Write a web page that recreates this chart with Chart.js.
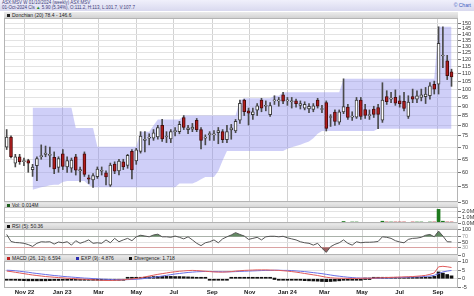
<!DOCTYPE html>
<html>
<head>
<meta charset="utf-8">
<script src="https://cdn.jsdelivr.net/npm/chart.js@4.4.1/dist/chart.umd.min.js"></script>
<style>
  html, body { margin: 0; padding: 0; background: #fff; }
  body { width: 474px; height: 296px; position: relative; overflow: hidden;
         font-family: "Liberation Sans", Arial, sans-serif; }
  .top { position: absolute; left: 0; top: 0; width: 474px; height: 11px;
         background: linear-gradient(#f0f0fb, #d9d9ef); }
  .top .l1, .top .l2 { position: absolute; left: 2px; font-size: 4.5px; white-space: nowrap; color: #3c3c78; }
  .top .l1 { top: 0px; }
  .top .l2 { top: 5px; }
  .top .up { color: #1d8a1d; }
  .top .logo { position: absolute; right: 3px; top: 2px; font-size: 5px; color: #3b5bbf; }
  .hdr { position: absolute; left: 4px; width: 454px; height: 6px;
         background: linear-gradient(#ececec, #d2d2d2); font-size: 5px; line-height: 6px;
         color: #222; white-space: nowrap; }
  .sq { display: inline-block; width: 3px; height: 3px; margin: 0 2px 0 3px; vertical-align: 0; }
  canvas { position: absolute; left: 0; }
</style>
</head>
<body>
<div class="top">
  <div class="l1">ASX:MSV W 01/10/2024 (weekly) ASX:MSV</div>
  <div class="l2">01-Oct-2024 Cls <span class="up">▲</span> 5.90 (5.34%), O:111.2, H:113, L:101.7, V:107.7</div>
  <div class="logo">© Chart</div>
</div>
<div class="hdr" style="top:12px"><span class="sq" style="background:#222"></span>Donchian (20) 78.4 - 146.6</div>
<div class="hdr" style="top:202px"><span class="sq" style="background:#1d5e1d"></span>Vol: 0.014M</div>
<div class="hdr" style="top:223px"><span class="sq" style="background:#111"></span>RSI (5): 50.36</div>
<div class="hdr" style="top:255px"><span class="sq" style="background:#c02020"></span>MACD (26, 12): 6.594
  <span class="sq" style="background:#2a2ab0;margin-left:14px"></span>EXP (9): 4.876
  <span class="sq" style="background:#111;margin-left:14px"></span>Divergence: 1.718</div>

<canvas id="price" width="474" height="194" style="top:13px"></canvas>
<canvas id="vol" width="474" height="26" style="top:202px"></canvas>
<canvas id="rsi" width="474" height="36" style="top:224px"></canvas>
<canvas id="macd" width="474" height="40" style="top:256px"></canvas>

<script>
/* weekly bars, first week starting 3 Oct 2022 */
const START = "2022-10-03";

const TICK_DATES = ["2022-11-01", "2023-01-01", "2023-03-01", "2023-05-01", "2023-07-01", "2023-09-01",
  "2023-11-01", "2024-01-01", "2024-03-01", "2024-05-01", "2024-07-01", "2024-09-01"];
const TICK_LABELS = ["Nov 22", "Jan 23", "Mar", "May", "Jul", "Sep", "Nov", "Jan 24", "Mar", "May", "Jul", "Sep"];

const PRICE_TICKS = [50, 55, 60, 65, 70, 75, 80, 85, 90, 95, 100, 105, 110, 115, 120, 125, 130, 135, 140, 145, 150];
const VOL_TICKS = [0, 1, 2];
const RSI_TICKS = [0, 30, 50, 70, 100];
const MACD_TICKS = [-5, 0, 5, 10];

const OPEN = [
  70, 74.5, 63.5, 66, 64, 64.5, 61, 62.5, 66, 67,
  66.5, 65.8, 61.8, 67.2, 62, 61.5, 66, 60.5, 67.2, 58,
  57.3, 58.4, 60.4, 59.8, 55.4, 63.1, 60.5, 64, 62.6, 68.2,
  64.3, 68.2, 73, 74, 74, 74.6, 80, 74.5, 73.6, 77,
  77, 84, 78, 78.2, 82.5, 78, 74, 75.6, 75.5, 76.5,
  77, 73.3, 77.8, 77.4, 82.6, 93.4, 87.5, 85.5, 87.8, 93.5,
  90, 85.4, 93, 93, 96.5, 93, 92.5, 93, 90.5, 89,
  88.5, 88.3, 93.4, 88.2, 92, 84, 86.8, 81.6, 86.9, 89.5,
  84.2, 84.2, 93.4, 88.2, 85, 88.5, 89.3, 82.6, 95.5, 94,
  95, 93, 92.8, 84.5, 95.5, 94, 95, 95.5, 96, 103,
  103, 122.5, 118.9, 111.2];
const HIGH = [
  78, 75, 67, 67, 65.5, 65, 63, 66, 71, 70.5,
  70, 68, 66, 69, 66, 65.5, 67, 62, 68, 59,
  59.5, 62, 62, 60.5, 63.5, 64, 65, 65, 67, 69,
  69.5, 77, 77, 76, 78, 80, 83, 77, 78, 79,
  82, 85, 80, 81, 83.5, 79, 75.5, 77, 77.5, 79,
  78, 80, 80.5, 83, 93.4, 94, 89, 89, 91.5, 94.5,
  93, 92, 96, 95, 98, 95, 95, 94, 93, 92.5,
  91.5, 91.5, 94.5, 90.5, 93, 85.5, 88, 88, 106.5, 91,
  87, 95, 95, 91, 88, 90, 91, 104, 99, 98,
  99.5, 96, 98, 96, 100, 99, 100, 101, 104, 105,
  146.6, 146.6, 123, 113];
const LOW = [
  69, 65.5, 62, 63, 62.5, 60, 58.5, 57, 65, 66,
  62, 59.5, 60, 61, 60, 60, 59, 56.6, 58.5, 56,
  54.7, 57.8, 59, 55.5, 55, 59.5, 59, 61, 61.5, 57.6,
  63, 67.5, 68, 71, 73, 73.5, 72.5, 72, 72, 75,
  76, 78, 76, 77, 77, 69.3, 71, 73, 73, 71.5,
  72, 72, 73.5, 76.5, 81, 85, 80.2, 83, 85, 87,
  87.5, 84.5, 91, 90, 91.5, 90.5, 89, 89.5, 88.5, 88,
  86.5, 87, 89, 86.5, 77.3, 79.5, 80, 80.5, 86, 83,
  82.5, 83.5, 83, 83.5, 83, 84, 78.4, 81.5, 91, 92,
  90.5, 89.5, 87.5, 83.5, 92, 92, 93, 91.5, 94, 97,
  97, 114, 106, 101.7];
const CLOSE = [
  74.5, 66, 66, 64, 64.5, 63.5, 62, 65.3, 66.5, 67.5,
  67, 61.3, 65.3, 62.2, 64.5, 64.7, 60.8, 61, 59.2, 57.5,
  58.8, 61.2, 60.6, 58.3, 62.7, 60.4, 64.3, 62, 66.6, 60.9,
  68.9, 74.9, 73.5, 74.2, 76.5, 79, 73.6, 74.8, 77, 77.3,
  80.6, 79, 78.8, 79.2, 78, 73, 74.3, 75.8, 76, 77.5,
  73.3, 77, 78.8, 82, 91.6, 87, 86.2, 86.9, 90.2, 89,
  90.2, 90.3, 93.2, 93.3, 92.9, 93.2, 93, 91.5, 91.5, 91,
  90, 90.2, 90, 88.4, 78.5, 84.2, 82, 86.9, 89.8, 84,
  84.4, 93.4, 84.5, 85.1, 85.2, 85.6, 85.6, 93.5, 92.5, 94.3,
  91.7, 91.5, 88.8, 92.3, 94, 96, 96.5, 97, 102, 100,
  132.5, 122.7, 108.5, 107.7];

const DON_UPPER = [
  null, null, null, null, null, null, 89.2, 89.2, 89.2, 89.2,
  89.2, 89.2, 89.2, 89.2, 89.2, 89.2, 78.8, 78.8, 78.8, 78.8,
  78.8, 70.2, 70.2, 70.2, 70.2, 70.2, 70.2, 70.2, 70.2, 70.2,
  70.2, 77, 77, 77, 80, 83, 83, 83, 83, 83,
  83, 85, 85, 85, 85, 85, 85, 85, 85, 85,
  85, 85, 85, 85, 93.4, 94.5, 94.5, 94.5, 94.5, 94.5,
  94.5, 94.5, 96, 96, 98, 98, 98, 98, 98, 98,
  98, 98, 98, 98, 98, 98, 98, 98, 106.5, 106.5,
  106.5, 106.5, 106.5, 106.5, 106.5, 106.5, 106.5, 106.5, 106.5, 106.5,
  106.5, 106.5, 106.5, 106.5, 106.5, 106.5, 106.5, 106.5, 106.5, 106.5,
  146.6, 146.6, 146.6, 146.6];
const DON_LOWER = [
  null, null, null, null, null, null, 53.9, 54.3, 54.7, 55,
  55.4, 55.6, 55.6, 56.5, 56.9, 56.9, 56.9, 56.9, 56.9, 55.5,
  54.7, 54.7, 54.7, 54.7, 54.7, 54.7, 54.7, 54.7, 54.7, 54.7,
  54.7, 54.7, 54.7, 54.7, 54.7, 54.7, 54.7, 54.7, 54.7, 54.7,
  56, 56, 56, 56, 56.6, 57.5, 58.3, 58.3, 58.3, 60.5,
  64.5, 68.4, 68.4, 68.4, 68.4, 68.4, 68.4, 68.4, 68.4, 68.4,
  68.4, 68.4, 68.4, 68.4, 68.4, 69.3, 70, 70.5, 71, 71.8,
  72.5, 74, 76, 77.3, 77.3, 77.3, 77.3, 77.3, 77.3, 77.3,
  77.3, 77.3, 77.3, 77.3, 77.3, 77.3, 78.4, 78.4, 78.4, 78.4,
  78.4, 78.4, 78.4, 78.4, 78.4, 78.4, 78.4, 78.4, 78.4, 78.4,
  78.4, 78.4, 78.4, 78.4];

// volume in millions (0 = no visible bar)
const VOLUME = [
  0, 0, 0, 0, 0, 0, 0, 0, 0, 0,
  0, 0, 0, 0, 0, 0, 0, 0, 0, 0,
  0, 0, 0, 0, 0, 0, 0, 0, 0, 0,
  0, 0, 0, 0, 0, 0, 0, 0, 0, 0,
  0, 0, 0, 0, 0, 0, 0, 0, 0, 0,
  0, 0, 0, 0, 0, 0, 0, 0, 0, 0,
  0, 0, 0, 0, 0, 0, 0, 0, 0, 0,
  0, 0, 0, 0, 0, 0, 0, 0, 0.25, 0,
  0.05, 0.05, 0, 0, 0, 0, 0, 0.3, 0.05, 0.05,
  0.05, 0.05, 0.05, 0, 0.05, 0.05, 0.05, 0, 0.05, 0.08,
  2.3, 0.3, 0.05, 0.014];

const RSI = [
  79, 52, 48, 47, 45, 40, 33, 45, 51, 50,
  51, 42, 50, 47, 51, 38, 55, 45, 51, 58,
  45, 47, 45, 58, 47, 64, 51, 58, 64, 55,
  70, 76, 73, 70, 77, 80, 70, 70, 68, 73,
  68, 62, 70, 58, 45, 36, 47, 51, 58, 47,
  62, 70, 77, 86, 79, 73, 60, 64, 68, 58,
  70, 72, 72, 70, 72, 66, 62, 58, 51, 47,
  45, 38, 45, 26, 10, 32, 41, 47, 58, 45,
  38, 51, 47, 49, 49, 50, 52, 70, 68, 64,
  55, 50, 47, 60, 64, 65, 68, 76, 79, 70,
  92, 73, 51, 50.36];

const MACD = [
  4.5, 4.2, 3.8, 3.4, 3.0, 2.6, 2.2, 1.9, 1.6, 1.3,
  1.1, 0.9, 0.7, 0.5, 0.3, 0.2, 0.0, -0.2, -0.3, -0.4,
  -0.6, -0.8, -0.9, -1.0, -1.0, -0.9, -0.8, -0.6, -0.4, -0.1,
  0.2, 0.6, 1.1, 1.6, 2.1, 2.6, 3.0, 3.4, 3.8, 4.1,
  4.4, 4.6, 4.8, 4.9, 4.8, 4.6, 4.4, 4.2, 4.0, 3.9,
  3.9, 4.0, 4.2, 4.5, 4.7, 4.9, 5.0, 5.1, 5.2, 5.2,
  5.2, 5.1, 5.0, 4.9, 4.7, 4.5, 4.2, 3.9, 3.5, 3.1,
  2.7, 2.3, 1.9, 1.4, 0.9, 0.6, 0.4, 0.3, 0.3, 0.2,
  0.2, 0.2, 0.3, 0.3, 0.3, 0.4, 0.5, 0.6, 0.7, 0.8,
  0.9, 1.0, 1.1, 1.2, 1.3, 1.5, 1.7, 2.0, 2.6, 3.4,
  7.0, 7.3, 7.0, 6.594];
const EXP9 = [
  5.0, 4.9, 4.7, 4.4, 4.1, 3.8, 3.4, 3.1, 2.8, 2.5,
  2.2, 1.9, 1.7, 1.4, 1.2, 1.0, 0.8, 0.6, 0.4, 0.3,
  0.1, 0.0, -0.2, -0.3, -0.4, -0.5, -0.5, -0.5, -0.5, -0.4,
  -0.3, -0.1, 0.2, 0.5, 0.8, 1.2, 1.6, 2.0, 2.4, 2.8,
  3.1, 3.4, 3.7, 3.9, 4.1, 4.2, 4.3, 4.3, 4.2, 4.2,
  4.1, 4.1, 4.1, 4.2, 4.3, 4.4, 4.5, 4.6, 4.7, 4.8,
  4.9, 4.9, 5.0, 5.0, 4.9, 4.9, 4.8, 4.6, 4.4, 4.2,
  3.9, 3.6, 3.3, 3.0, 2.6, 2.2, 1.8, 1.5, 1.2, 0.9,
  0.7, 0.5, 0.4, 0.3, 0.3, 0.3, 0.3, 0.4, 0.4, 0.5,
  0.6, 0.7, 0.8, 0.9, 1.0, 1.1, 1.2, 1.4, 1.6, 2.0,
  3.0, 4.0, 4.5, 4.876];
const DIVERGENCE = [
  -0.5, -0.7, -0.9, -1.0, -1.1, -1.2, -1.2, -1.2, -1.2, -1.2,
  -1.1, -1.0, -1.0, -0.9, -0.9, -0.8, -0.8, -0.8, -0.7, -0.7,
  -0.7, -0.8, -0.7, -0.7, -0.6, -0.4, -0.3, -0.1, 0.1, 0.3,
  0.5, 0.7, 0.9, 1.1, 1.3, 1.4, 1.4, 1.4, 1.4, 1.3,
  1.3, 1.2, 1.1, 1.0, 0.7, 0.4, 0.1, -0.1, -0.2, -0.3,
  -0.2, -0.1, 0.1, 0.3, 0.4, 0.5, 0.5, 0.5, 0.5, 0.4,
  0.3, 0.2, 0.0, -0.1, -0.2, -0.4, -0.6, -0.7, -0.9, -1.1,
  -1.2, -1.3, -1.4, -1.6, -1.7, -1.6, -1.4, -1.2, -0.9, -0.7,
  -0.5, -0.3, -0.1, 0.0, 0.0, 0.1, 0.2, 0.2, 0.3, 0.3,
  0.3, 0.3, 0.3, 0.3, 0.3, 0.4, 0.5, 0.6, 1.0, 1.4,
  4.0, 3.3, 2.5, 1.718];

/* ---------- shared setup ---------- */
Chart.defaults.font.family = '"Liberation Sans", Arial, sans-serif';
Chart.defaults.animation = false;
Chart.defaults.plugins.legend.display = false;
Chart.defaults.plugins.tooltip.enabled = false;

const X_MIN = -0.62;
const X_MAX = 104.5;
const weekOf = (d) => (Date.parse(d) - Date.parse(START)) / 6048e5;
const pts = (arr) => arr.map((v, i) => ({ x: i, y: v }));
const isUp = (i) => CLOSE[i] >= OPEN[i];

// light frame round each plot area
const frame = {
  id: "frame",
  afterDraw(chart) {
    const { ctx, chartArea: a } = chart;
    ctx.save();
    ctx.strokeStyle = "#b4b4b4";
    ctx.lineWidth = 1;
    ctx.strokeRect(Math.round(a.left) + 0.5, Math.round(a.top) + 0.5,
      Math.round(a.width) - 1, Math.round(a.height) - 1);
    ctx.restore();
  },
};

function xAxis(showLabels) {
  return {
    type: "linear",
    min: X_MIN,
    max: X_MAX,
    offset: false,
    afterBuildTicks: (s) => { s.ticks = TICK_DATES.map((d) => ({ value: weekOf(d) })); },
    afterFit: (s) => { s.height = showLabels ? 8 : 0; },
    grid: { color: "#d2d2d2", drawTicks: false, offset: false },
    border: { display: false },
    ticks: {
      display: showLabels,
      autoSkip: false,
      maxRotation: 0,
      padding: 1,
      color: "#222",
      font: { size: 6, weight: "bold" },
      callback: (v, i) => TICK_LABELS[i],
    },
  };
}

function yAxis(opts, tickList, fmt, gridColor, tickColor) {
  return Object.assign({
    position: "right",
    afterBuildTicks: (s) => { s.ticks = tickList.map((v) => ({ value: v })); },
    afterFit: (s) => { s.width = 16; },
    border: { display: false },
    grid: {
      color: gridColor || "#e3e3e3",
      tickColor: "#777",
      tickLength: 3,
      drawTicks: true,
    },
    ticks: {
      autoSkip: false,
      padding: 1,
      color: tickColor || "#333",
      font: { size: 5.5 },
      callback: fmt,
    },
  }, opts);
}

const PAD = { left: 4, right: 0, top: 5, bottom: 5 };

/* ---------- price panel: Donchian band + candles ---------- */
new Chart(document.getElementById("price"), {
  type: "bar",
  data: {
    datasets: [
      {
        type: "line", data: pts(DON_UPPER), order: 3,
        borderWidth: 0, pointRadius: 0, fill: "+1",
        backgroundColor: "rgba(140,140,238,0.42)",
      },
      {
        type: "line", data: pts(DON_LOWER), order: 3,
        borderWidth: 0, pointRadius: 0, fill: false,
      },
      {
        data: LOW.map((l, i) => ({ x: i, y: [l, HIGH[i]] })), order: 2,
        grouped: false, barThickness: 1, backgroundColor: "#4a4a4a",
      },
      {
        data: OPEN.map((o, i) => ({ x: i, y: [o, CLOSE[i]] })), order: 1,
        grouped: false, barThickness: 3, minBarLength: 1, borderWidth: 1,
        borderSkipped: false,
        backgroundColor: OPEN.map((o, i) => (isUp(i) ? "#ffffff" : "#b21c1c")),
        borderColor: OPEN.map((o, i) => (isUp(i) ? "#3a3a3a" : "#4a0c0c")),
      },
    ],
  },
  options: {
    responsive: false,
    devicePixelRatio: 1,
    layout: { padding: PAD },
    scales: {
      x: xAxis(false),
      y: yAxis({ type: "logarithmic", min: 50, max: 154.7, bounds: "data" }, PRICE_TICKS, (v) => v),
    },
  },
  plugins: [frame],
});

/* ---------- volume panel ---------- */
new Chart(document.getElementById("vol"), {
  type: "bar",
  data: {
    datasets: [{
      data: VOLUME.map((v, i) => ({ x: i, y: v > 0 ? v : null })),
      barThickness: 3,
      minBarLength: 1,
      backgroundColor: VOLUME.map((v, i) => (isUp(i) ? "#1d7a1d" : "#b22222")),
    }],
  },
  options: {
    responsive: false,
    devicePixelRatio: 1,
    layout: { padding: PAD },
    scales: {
      x: xAxis(false),
      y: yAxis({ min: 0, max: 2.7 }, VOL_TICKS, (v) => v.toFixed(1) + "M"),
    },
  },
  plugins: [frame],
});

/* ---------- RSI panel ---------- */
new Chart(document.getElementById("rsi"), {
  type: "line",
  data: {
    datasets: [
      {
        data: pts(RSI), borderColor: "#555", borderWidth: 1, pointRadius: 0,
        fill: { target: { value: 70 }, above: "rgba(72,118,72,0.85)", below: "rgba(0,0,0,0)" },
      },
      {
        data: pts(RSI), borderWidth: 0, pointRadius: 0,
        fill: { target: { value: 30 }, above: "rgba(0,0,0,0)", below: "rgba(140,72,72,0.85)" },
      },
    ],
  },
  options: {
    responsive: false,
    devicePixelRatio: 1,
    layout: { padding: PAD },
    scales: {
      x: xAxis(false),
      y: yAxis({ min: 0, max: 100 }, RSI_TICKS, (v) => v,
        (c) => (c.tick.value === 30 ? "#eab4b4" : c.tick.value === 70 ? "#bdbdbd" : "#e3e3e3"),
        (c) => (c.tick.value === 30 || c.tick.value === 70 ? "#9a9a9a" : "#333")),
    },
  },
  plugins: [frame],
});

/* ---------- MACD panel ---------- */
new Chart(document.getElementById("macd"), {
  type: "bar",
  data: {
    datasets: [
      {
        data: pts(DIVERGENCE), order: 3, barThickness: 3, minBarLength: 1.5,
        backgroundColor: "#111",
      },
      {
        type: "line", data: pts(EXP9), order: 2,
        borderColor: "#6a70e6", borderWidth: 1, pointRadius: 0,
      },
      {
        type: "line", data: pts(MACD), order: 1,
        borderColor: "#e05a5a", borderWidth: 1, pointRadius: 0,
      },
    ],
  },
  options: {
    responsive: false,
    devicePixelRatio: 1,
    layout: { padding: { left: 4, right: 0, top: 5, bottom: 0 } },
    scales: {
      x: xAxis(true),
      y: yAxis({ min: -5.4, max: 10.4 }, MACD_TICKS, (v) => v),
    },
  },
  plugins: [frame],
});
</script>
</body>
</html>
